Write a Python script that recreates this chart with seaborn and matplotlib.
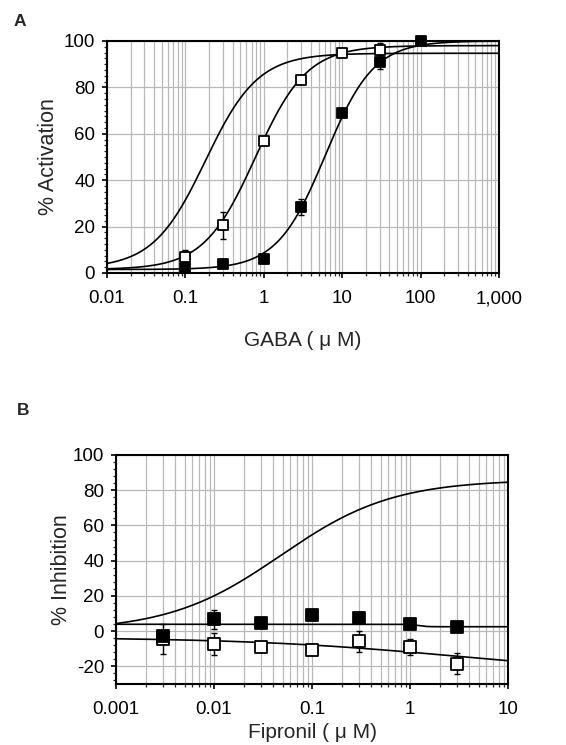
import numpy as np
import pandas as pd
import matplotlib
matplotlib.use("Agg")
import matplotlib.pyplot as plt
import matplotlib.ticker as mticker
import seaborn as sns

# ---------------- Panel A: GABA concentration-response ----------------
gaba_open_conc = [0.1, 0.3, 1, 3, 10, 30]
gaba_open_act = [7, 20.5, 57, 83, 95, 96]
gaba_open_err = [3, 5.7, 1.5, 1.5, 1, 3]

gaba_filled_conc = [0.1, 0.3, 1, 3, 10, 30, 100]
gaba_filled_act = [2, 4, 6, 28.5, 69, 91, 100]
gaba_filled_err = [1, 1, 1, 3.5, 1.5, 3, 1]

# Hill fits: (bottom, top, EC50, Hill slope)
gaba_fit_left = (2.0, 94.7, 0.18, 1.30)
gaba_fit_open = (1.5, 98.0, 0.78, 1.32)
gaba_fit_filled = (1.5, 100.0, 6.1, 1.41)

gaba_ticks = [0.01, 0.1, 1, 10, 100, 1000]
gaba_ticklabels = ["0.01", "0.1", "1", "10", "100", "1,000"]

# ---------------- Panel B: fipronil inhibition ----------------
fip_conc = [0.003, 0.01, 0.03, 0.1, 0.3, 1, 3]
fip_filled_inh = [-2.5, 6.7, 4.5, 9.2, 7.3, 4.1, 2.2]
fip_filled_err = [2, 5.3, 1.5, 2, 1.5, 1, 2]
fip_open_inh = [-4.5, -7.3, -9, -10.5, -5.8, -9, -18.4]
fip_open_err = [8.5, 6.2, 2.5, 3, 5.8, 4.7, 6.2]

fip_fit_upper = (0.0, 86.0, 0.048, 0.76)
fip_fit_filled = (3.9, 2.5, 1.2, 10.0)
fip_fit_open = (-3.5, -25.0, 3.0, 0.40)

fip_ticks = [0.001, 0.01, 0.1, 1, 10]
fip_ticklabels = ["0.001", "0.01", "0.1", "1", "10"]


def hill(x, bottom, top, ec50, n):
    x = np.asarray(x, dtype=float)
    return bottom + (top - bottom) / (1.0 + (ec50 / x) ** n)


sns.set_theme(style="ticks")
plt.rcParams["font.family"] = ["Liberation Sans", "DejaVu Sans"]
plt.rcParams["axes.linewidth"] = 1.5
plt.rcParams["axes.unicode_minus"] = False

fig = plt.figure(figsize=(5.66, 7.45), dpi=100)
axA = fig.add_axes([0.189, 0.6336, 0.6926, 0.3114])
axB = fig.add_axes([0.205, 0.0819, 0.6926, 0.3074])

GRID = "#b8b8b8"


def style_axis(ax, xlim, ylim, xticks, xticklabels, yticks, yminor):
    ax.set_xscale("log")
    ax.set_xlim(*xlim)
    ax.set_ylim(*ylim)
    ax.set_xticks(xticks)
    ax.set_xticklabels(xticklabels)
    ax.xaxis.set_minor_locator(mticker.LogLocator(base=10, subs=np.arange(2, 10)))
    ax.xaxis.set_minor_formatter(mticker.NullFormatter())
    ax.set_yticks(yticks)
    ax.yaxis.set_minor_locator(mticker.MultipleLocator(yminor))
    ax.grid(which="major", axis="both", color=GRID, lw=0.9, zorder=0)
    ax.grid(which="minor", axis="x", color=GRID, lw=0.9, zorder=0)
    ax.set_axisbelow(True)
    for s in ax.spines.values():
        s.set_visible(True)
        s.set_color("black")
        s.set_linewidth(1.5)
    ax.tick_params(which="major", direction="out", length=3.5, width=1.2,
                   labelsize=13.5, pad=5, colors="black")
    ax.tick_params(axis="x", which="major", pad=9)
    ax.tick_params(which="minor", direction="out", length=2, width=0.9)


def draw_points(ax, conc, vals, errs, filled, size):
    ax.errorbar(conc, vals, yerr=errs, fmt="none", ecolor="black",
                elinewidth=1.0, capsize=2.5, capthick=1.0, zorder=3,
                clip_on=False)
    df = pd.DataFrame({"conc": conc, "val": vals})
    sns.scatterplot(data=df, x="conc", y="val", ax=ax, marker="s", s=size,
                    color="black" if filled else "white",
                    edgecolor="black", linewidth=1.3, zorder=4, legend=False,
                    clip_on=False)


def draw_fit(ax, xmin, xmax, params):
    xs = np.logspace(np.log10(xmin), np.log10(xmax), 300)
    df = pd.DataFrame({"conc": xs, "val": hill(xs, *params)})
    sns.lineplot(data=df, x="conc", y="val", ax=ax, color="black", lw=1.2,
                 zorder=2, legend=False)


# Panel A
for p in (gaba_fit_left, gaba_fit_open, gaba_fit_filled):
    draw_fit(axA, 0.01, 1000, p)
draw_points(axA, gaba_open_conc, gaba_open_act, gaba_open_err, False, 50)
draw_points(axA, gaba_filled_conc, gaba_filled_act, gaba_filled_err, True, 58)
style_axis(axA, (0.01, 1000), (0, 100), gaba_ticks, gaba_ticklabels,
           [0, 20, 40, 60, 80, 100], 2.5)
axA.set_xlabel("GABA ( \u03bc M)", fontsize=15)
axA.set_ylabel("% Activation", fontsize=15.5)
axA.xaxis.set_label_coords(0.5, -0.293)
axA.xaxis.label.set_va("center")
axA.yaxis.set_label_coords(-0.148, 0.5)
axA.yaxis.label.set_va("center")

# Panel B
for p in (fip_fit_upper, fip_fit_filled, fip_fit_open):
    draw_fit(axB, 0.001, 10, p)
draw_points(axB, fip_conc, fip_open_inh, fip_open_err, False, 66)
draw_points(axB, fip_conc, fip_filled_inh, fip_filled_err, True, 72)
style_axis(axB, (0.001, 10), (-30, 100), fip_ticks, fip_ticklabels,
           [-20, 0, 20, 40, 60, 80, 100], 4)
axB.set_xlabel("Fipronil ( \u03bc M)", fontsize=15)
axB.set_ylabel("% Inhibition", fontsize=15.5)
axB.xaxis.set_label_coords(0.5, -0.21)
axB.xaxis.label.set_va("center")
axB.yaxis.set_label_coords(-0.14, 0.5)
axB.yaxis.label.set_va("center")

fig.text(14 / 566, 1 - 22 / 745, "A", fontsize=12.5, fontweight="bold",
         ha="left", va="center")
fig.text(17 / 566, 1 - 411 / 745, "B", fontsize=12.5, fontweight="bold",
         ha="left", va="center")

fig.savefig("out.png", dpi=100)
